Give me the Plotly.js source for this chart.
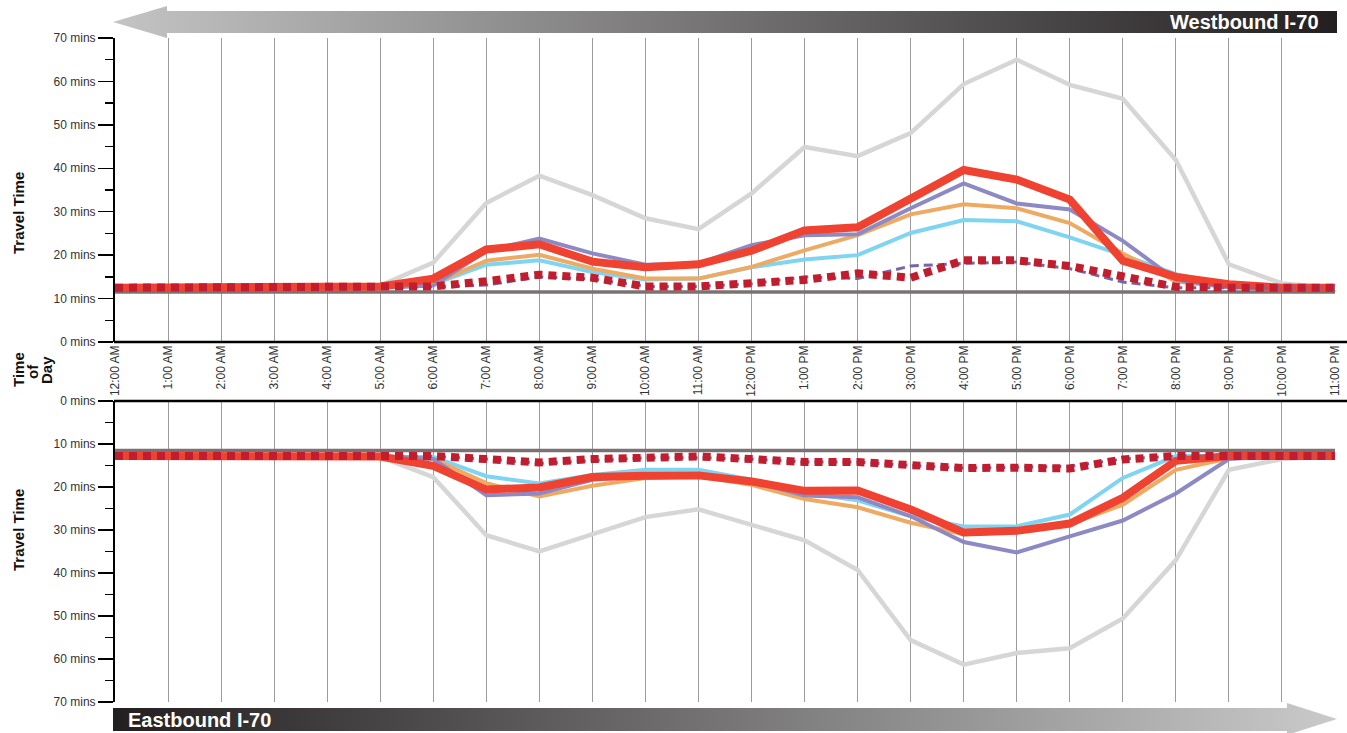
<!DOCTYPE html>
<html><head><meta charset="utf-8">
<script src="https://cdn.plot.ly/plotly-3.0.1.min.js"></script>
<style>html,body{margin:0;padding:0;background:#fff}#chart{width:1347px;height:733px}</style>
</head><body><div id="chart"></div>
<script>
// ---------- DATA ----------
const hours = ["12:00 AM","1:00 AM","2:00 AM","3:00 AM","4:00 AM","5:00 AM","6:00 AM","7:00 AM","8:00 AM","9:00 AM","10:00 AM","11:00 AM",
               "12:00 PM","1:00 PM","2:00 PM","3:00 PM","4:00 PM","5:00 PM","6:00 PM","7:00 PM","8:00 PM","9:00 PM","10:00 PM","11:00 PM"];
const yTickVals = [0,10,20,30,40,50,60,70];
const yTickText = ["0 mins","10 mins","20 mins","30 mins","40 mins","50 mins","60 mins","70 mins"];

// Westbound I-70 (top panel)
const wbFreeFlow   = [11.5,11.5,11.5,11.5,11.5,11.5,11.5,11.5,11.5,11.5,11.5,11.5,11.5,11.5,11.5,11.5,11.5,11.5,11.5,11.5,11.5,11.5,11.5,11.5];
const wbGray       = [12.5,12.5,12.5,12.5,12.5,13.0,18.3,32.0,38.3,33.8,28.5,26.0,34.2,44.9,42.8,48.1,59.4,65.0,59.2,56.0,41.9,17.9,13.5,12.5];
const wbCyan       = [12.5,12.5,12.5,12.5,12.5,12.5,13.3,17.8,18.8,16.1,14.4,14.6,17.2,19.0,20.0,25.1,28.1,27.8,24.1,20.0,15.6,13.2,12.5,12.5];
const wbOrange     = [12.5,12.5,12.5,12.5,12.5,12.5,13.4,18.7,20.1,16.9,14.6,14.6,17.3,21.1,24.6,29.4,31.7,30.8,27.4,20.4,13.9,12.6,12.5,12.5];
const wbPurple     = [12.5,12.5,12.5,12.5,12.5,12.5,13.0,21.0,23.8,20.4,17.8,18.1,22.3,24.6,24.8,30.8,36.5,31.9,30.5,23.3,14.3,12.6,12.5,12.5];
const wbRed        = [12.5,12.5,12.5,12.5,12.5,12.8,14.6,21.3,22.5,18.5,17.2,17.9,21.0,25.7,26.4,32.8,39.6,37.4,32.8,18.7,15.0,13.3,12.5,12.5];
const wbDashPurple = [12.5,12.5,12.5,12.5,12.5,12.5,12.7,13.1,15.0,14.5,12.8,12.8,13.4,15.0,14.6,17.5,18.1,18.4,16.9,13.8,12.5,12.5,12.5,12.5];
const wbDotRed     = [12.5,12.5,12.5,12.5,12.5,12.5,12.8,14.0,15.5,14.8,12.8,12.8,13.5,14.3,15.8,14.8,18.8,18.8,17.5,15.0,12.7,12.5,12.5,12.5];

// Eastbound I-70 (bottom panel)
const ebFreeFlow   = [11.5,11.5,11.5,11.5,11.5,11.5,11.5,11.5,11.5,11.5,11.5,11.5,11.5,11.5,11.5,11.5,11.5,11.5,11.5,11.5,11.5,11.5,11.5,11.5];
const ebGray       = [12.8,12.8,12.8,12.8,12.8,13.0,17.7,31.2,35.0,31.0,27.0,25.2,28.7,32.4,39.3,55.6,61.3,58.6,57.5,50.6,37.0,16.0,13.5,12.8];
const ebCyan       = [12.8,12.8,12.8,12.8,12.8,12.8,13.0,17.5,19.2,17.2,16.0,16.0,18.3,21.4,23.1,26.8,29.2,29.1,26.4,17.9,12.8,12.8,12.8,12.8];
const ebOrange     = [12.8,12.8,12.8,12.8,12.8,12.8,13.5,19.1,22.2,19.7,17.9,17.5,19.5,22.8,24.7,28.3,31.0,30.5,28.7,24.1,16.0,13.3,12.8,12.8];
const ebPurple     = [12.8,12.8,12.8,12.8,12.8,12.8,13.5,21.9,21.5,18.3,17.4,17.3,18.7,22.0,22.4,26.8,32.8,35.2,31.5,27.8,21.5,13.5,12.8,12.8];
const ebRed        = [12.8,12.8,12.8,12.8,12.8,12.9,15.1,20.6,20.1,17.7,17.4,17.3,18.7,20.9,20.8,25.2,30.6,30.2,28.5,22.5,13.9,12.8,12.8,12.8];
const ebDashPurple = [12.8,12.8,12.8,12.8,12.8,12.8,12.9,13.5,14.5,13.9,13.2,13.2,13.5,14.2,14.2,15.0,15.6,15.4,15.2,13.5,12.8,12.8,12.8,12.8];
const ebDotRed     = [12.8,12.8,12.8,12.8,12.8,12.8,12.8,13.5,14.3,13.5,13.1,12.9,13.5,14.2,14.2,15.0,15.6,15.5,15.7,13.6,12.8,12.8,12.8,12.8];

// ---------- STYLES ----------
const W = 1347, H = 733;
const px = v => v / W;
const py = v => 1 - v / H;
const FONT = "Liberation Sans, Arial, Helvetica, sans-serif";

const styles = {
  gray:       {color:'#d6d6d6', width:4.5},
  free:       {color:'#7a7272', width:3.5},
  cyan:       {color:'#7fd4f1', width:4},
  orange:     {color:'#eeaa62', width:4},
  purple:     {color:'#8d89c4', width:4},
  red:        {color:'#f04230', width:8},
  dashPurple: {color:'#7466a8', width:3, dash:'9px,5px'},
  dotRed:     {color:'#c11d2e', width:8, dash:'8px,6px'}
};

function tr(y, st, xa, ya) {
  return {x: hours, y: y, type:'scatter', mode:'lines', xaxis: xa, yaxis: ya,
          line: Object.assign({}, st), hoverinfo:'skip', showlegend:false};
}

const data = [
  tr(wbGray, styles.gray, 'x', 'y'),
  tr(wbFreeFlow, styles.free, 'x', 'y'),
  tr(wbCyan, styles.cyan, 'x', 'y'),
  tr(wbOrange, styles.orange, 'x', 'y'),
  tr(wbPurple, styles.purple, 'x', 'y'),
  tr(wbRed, styles.red, 'x', 'y'),
  tr(wbDashPurple, styles.dashPurple, 'x', 'y'),
  tr(wbDotRed, styles.dotRed, 'x', 'y'),
  tr(ebGray, styles.gray, 'x2', 'y2'),
  tr(ebFreeFlow, styles.free, 'x2', 'y2'),
  tr(ebCyan, styles.cyan, 'x2', 'y2'),
  tr(ebOrange, styles.orange, 'x2', 'y2'),
  tr(ebPurple, styles.purple, 'x2', 'y2'),
  tr(ebRed, styles.red, 'x2', 'y2'),
  tr(ebDashPurple, styles.dashPurple, 'x2', 'y2'),
  tr(ebDotRed, styles.dotRed, 'x2', 'y2')
];

// ---------- ARROW IMAGES ----------
function arrowSvg(x0, y0, w, h, pts, c1, c2) {
  const p = pts.map(q => (q[0]-x0) + ',' + (q[1]-y0)).join(' ');
  return 'data:image/svg+xml;charset=utf-8,' + encodeURIComponent(
    '<svg xmlns="http://www.w3.org/2000/svg" width="'+w+'" height="'+h+'" viewBox="0 0 '+w+' '+h+'" preserveAspectRatio="none">' +
    '<defs><linearGradient id="g" x1="0" y1="0" x2="1" y2="0">' +
    '<stop offset="0" stop-color="'+c1+'"/><stop offset="1" stop-color="'+c2+'"/></linearGradient></defs>' +
    '<polygon points="'+p+'" fill="url(#g)"/></svg>');
}
const topArrow = arrowSvg(110, 3, 1230, 37,
  [[113,22],[167,6],[167,11],[1337,11],[1337,33],[167,33],[167,38]], '#c4c4c4', '#231f20');
const botArrow = arrowSvg(110, 700, 1230, 33,
  [[113,708],[1287,708],[1287,703],[1337,719],[1287,735],[1287,731],[113,731]], '#231f20', '#cacaca');

const yAxisBase = {
  tickvals: yTickVals, ticktext: yTickText,
  ticks:'outside', ticklen:15, tickwidth:1.5, tickcolor:'#000',
  minor: {dtick:5, tick0:0, ticks:'outside', ticklen:8, tickwidth:1.5, tickcolor:'#000', showgrid:false},
  showline:true, linecolor:'#000', linewidth:2,
  showgrid:false, zeroline:false, fixedrange:true,
  tickfont:{family:FONT, size:12, color:'#333'}
};
const xAxisBase = {
  type:'category', range:[0, 23], domain:[px(115), px(1335)],
  showgrid:true, gridcolor:'#9c9c9c', gridwidth:1,
  showline:false, zeroline:false, ticks:'', fixedrange:true
};

const layout = {
  width: W, height: H,
  margin:{l:0, r:0, t:0, b:0},
  paper_bgcolor:'#fff', plot_bgcolor:'rgba(0,0,0,0)',
  font:{family:FONT, color:'#333'},
  showlegend:false,
  xaxis: Object.assign({}, xAxisBase, {anchor:'y', tickangle:-90, showticklabels:true,
          tickfont:{family:FONT, size:12, color:'#333'}}),
  xaxis2: Object.assign({}, xAxisBase, {anchor:'y2', showticklabels:false}),
  yaxis: Object.assign({}, yAxisBase, {anchor:'x', domain:[py(342), py(38)], range:[0,70]}),
  yaxis2: Object.assign({}, yAxisBase, {anchor:'x2', domain:[py(702), py(401)], range:[70,0]}),
  shapes: [
    {type:'line', xref:'paper', yref:'paper', x0:px(114), x1:1, y0:py(342), y1:py(342), line:{color:'#000', width:2.5}},
    {type:'line', xref:'paper', yref:'paper', x0:px(114), x1:1, y0:py(401), y1:py(401), line:{color:'#000', width:2.5}}
  ],
  images: [
    {source: topArrow, xref:'paper', yref:'paper', x:px(110), y:py(3), sizex:1230/W, sizey:37/H,
     xanchor:'left', yanchor:'top', sizing:'stretch', layer:'above'},
    {source: botArrow, xref:'paper', yref:'paper', x:px(110), y:py(700), sizex:1230/W, sizey:33/H,
     xanchor:'left', yanchor:'top', sizing:'stretch', layer:'above'}
  ],
  annotations: [
    {text:'<b>Westbound I-70</b>', xref:'paper', yref:'paper', x:px(1321), y:py(22), xanchor:'right', yanchor:'middle',
     showarrow:false, font:{family:FONT, size:20, color:'#fff'}},
    {text:'<b>Eastbound I-70</b>', xref:'paper', yref:'paper', x:px(126), y:py(720), xanchor:'left', yanchor:'middle',
     showarrow:false, font:{family:FONT, size:20, color:'#fff'}},
    {text:'<b>Travel Time</b>', xref:'paper', yref:'paper', x:px(18), y:py(213), xanchor:'center', yanchor:'middle',
     textangle:-90, showarrow:false, font:{family:FONT, size:15, color:'#111'}},
    {text:'<b>Travel Time</b>', xref:'paper', yref:'paper', x:px(18), y:py(530), xanchor:'center', yanchor:'middle',
     textangle:-90, showarrow:false, font:{family:FONT, size:15, color:'#111'}},
    {text:'<b>Time</b>', xref:'paper', yref:'paper', x:px(18), y:py(370), xanchor:'center', yanchor:'middle',
     textangle:-90, showarrow:false, font:{family:FONT, size:15, color:'#111'}},
    {text:'<b>of</b>', xref:'paper', yref:'paper', x:px(32), y:py(372), xanchor:'center', yanchor:'middle',
     textangle:-90, showarrow:false, font:{family:FONT, size:15, color:'#111'}},
    {text:'<b>Day</b>', xref:'paper', yref:'paper', x:px(46), y:py(370), xanchor:'center', yanchor:'middle',
     textangle:-90, showarrow:false, font:{family:FONT, size:15, color:'#111'}}
  ]
};

Plotly.newPlot('chart', data, layout, {displayModeBar:false, staticPlot:true});
</script>
</body></html>
